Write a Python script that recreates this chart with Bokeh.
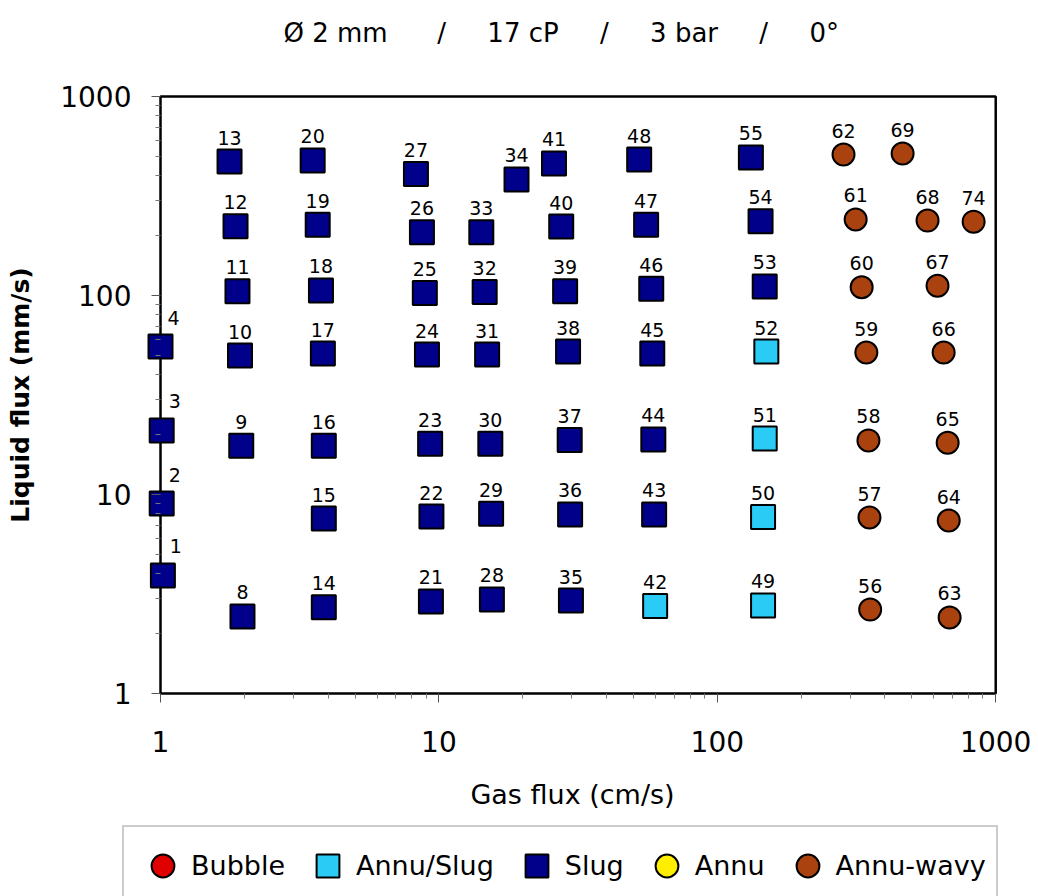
from bokeh.plotting import figure
from bokeh.models import (ColumnDataSource, FixedTicker, NumeralTickFormatter,
                          Legend, LegendItem, Range1d, BoxAnnotation)
from bokeh.layouts import column
from bokeh.core.properties import value
from bokeh.embed import file_html
from bokeh.resources import INLINE

# ---------------- data ----------------
slug_id = [1, 2, 3, 4, 8, 9, 10, 11, 12, 13, 14, 15, 16, 17, 18, 19, 20,
           21, 22, 23, 24, 25, 26, 27, 28, 29, 30, 31, 32, 33, 34,
           35, 36, 37, 38, 39, 40, 41, 43, 44, 45, 46, 47, 48, 53, 54, 55]
slug_gas = [1.02, 1.01, 1.01, 1.0, 1.97, 1.95, 1.93, 1.89, 1.86, 1.77,
            3.86, 3.86, 3.86, 3.83, 3.77, 3.67, 3.52,
            9.36, 9.40, 9.30, 9.06, 8.9, 8.69, 8.27,
            15.5, 15.4, 15.3, 14.9, 14.6, 14.2, 19.0,
            29.8, 29.6, 29.5, 29.1, 28.4, 27.5, 25.9,
            59.3, 58.9, 58.4, 57.9, 55.5, 52.4, 148, 143, 132]
slug_liq = [3.92, 9.0, 21.0, 55.4, 2.44, 17.6, 49.9, 105, 223, 471,
            2.71, 7.57, 17.6, 51.1, 106, 227, 477,
            2.90, 7.75, 18.0, 50.5, 103, 208, 408,
            2.97, 8.0, 18.0, 50.5, 104, 208, 383,
            2.93, 7.94, 18.8, 52.3, 105, 222, 461,
            7.94, 18.9, 51.1, 108, 227, 482, 111, 236, 494]

annuslug_id = [42, 49, 50, 51, 52]
annuslug_gas = [59.8, 146, 146, 148, 150]
annuslug_liq = [2.75, 2.77, 7.7, 19.1, 52.3]

wavy_id = [56, 57, 58, 59, 60, 61, 62, 63, 64, 65, 66, 67, 68, 69, 74]
wavy_gas = [354, 352, 349, 343, 330, 314, 284, 683, 678, 672, 650, 618, 569, 463, 833]
wavy_liq = [2.64, 7.66, 18.7, 51.7, 110, 241, 511, 2.41, 7.40, 18.2, 51.7, 112, 238, 517, 235]

regimes = ["Bubble", "Annu/Slug", "Slug", "Annu", "Annu-wavy"]
colors = {"Bubble": "#E00000", "Annu/Slug": "#2ACBF5", "Slug": "#00008B",
          "Annu": "#FFEE00", "Annu-wavy": "#A9420E"}
markers = {"Bubble": "circle", "Annu/Slug": "square", "Slug": "square",
           "Annu": "circle", "Annu-wavy": "circle"}

x_major = [1, 10, 100, 1000]
y_major = [1, 10, 100, 1000]

title_txt = ("Ø 2 mm" + "\u00a0" * 6 + "/" + "\u00a0" * 5 + "17 cP" + "\u00a0" * 5 +
             "/" + "\u00a0" * 5 + "3 bar" + "\u00a0" * 5 + "/" + "\u00a0" * 5 + "0°")

# ranges padded slightly so markers sitting on the left axis are not clipped
x_lo, x_hi = x_major[0] * 10 ** -0.0503, x_major[-1] * 10 ** 0.01
y_lo, y_hi = y_major[0] * 10 ** -0.01, y_major[-1] * 10 ** 0.01

# ---------------- main figure ----------------
p = figure(width=1038, height=824, x_axis_type="log", y_axis_type="log",
           x_range=Range1d(x_lo, x_hi), y_range=Range1d(y_lo, y_hi),
           output_backend="svg", toolbar_location=None,
           min_border_left=146, min_border_right=40,
           min_border_top=94, min_border_bottom=129)

p.background_fill_color = "white"
p.border_fill_color = "white"
p.xgrid.visible = False
p.ygrid.visible = False
p.outline_line_color = None

p.add_layout(BoxAnnotation(left=x_major[0], right=x_major[-1],
                           bottom=y_major[0], top=y_major[-1],
                           fill_color=None, fill_alpha=0,
                           line_color="black", line_width=2.5, line_alpha=1,
                           level="underlay"))

# second (blank) title line lifts the title towards the top edge
p.title.text = title_txt + "\n\u00a0"
p.title.text_font = "DejaVu Sans"
p.title.text_font_size = "26px"
p.title.text_font_style = "normal"
p.title.text_color = "black"
p.title.text_line_height = 1.5
p.title.align = "left"
p.title.vertical_align = "top"
p.title.offset = 137
p.title.standoff = 0

def minors(majors):
    out = []
    for m in majors[:-1]:
        out += [m * k for k in range(2, 10)]
    return out

p.xaxis.ticker = FixedTicker(ticks=x_major, minor_ticks=minors(x_major))
p.yaxis.ticker = FixedTicker(ticks=y_major, minor_ticks=minors(y_major))
for ax in (p.xaxis[0], p.yaxis[0]):
    ax.formatter = NumeralTickFormatter(format="0")
    ax.axis_line_color = None
    ax.major_tick_line_color = "#555555"
    ax.minor_tick_line_color = "#777777"
    ax.major_tick_line_width = 1
    ax.minor_tick_line_width = 1
    ax.major_label_text_font = "DejaVu Sans"
    ax.major_label_text_font_size = "28px"
    ax.major_label_text_color = "black"
    ax.axis_label_text_color = "black"

# x axis: frame bottom sits 2px under y=1
p.xaxis.major_tick_in = 2
p.xaxis.major_tick_out = 7
p.xaxis.minor_tick_in = 2
p.xaxis.minor_tick_out = 3
p.xaxis.major_label_standoff = 28
# y axis: frame left sits 14px left of x=1, ticks start at x=1
p.yaxis.major_tick_in = 14
p.yaxis.major_tick_out = -5
p.yaxis.minor_tick_in = 14
p.yaxis.minor_tick_out = -9
p.yaxis.major_label_standoff = 20

p.xaxis.axis_label = "Gas flux (cm/s)"
p.xaxis.axis_label_text_font = "DejaVu Sans"
p.xaxis.axis_label_text_font_size = "27px"
p.xaxis.axis_label_text_font_style = "normal"
p.xaxis.axis_label_standoff = 24
p.yaxis.axis_label = "Liquid flux (mm/s)"
p.yaxis.axis_label_text_font = "DejaVu Sans"
p.yaxis.axis_label_text_font_size = "25px"
p.yaxis.axis_label_text_font_style = "bold"
p.yaxis.axis_label_standoff = 22

series = {
    "Slug": (slug_id, slug_gas, slug_liq, 24),
    "Annu/Slug": (annuslug_id, annuslug_gas, annuslug_liq, 24),
    "Annu-wavy": (wavy_id, wavy_gas, wavy_liq, 22),
}

for name, (ids, gx, ly, size) in series.items():
    src = ColumnDataSource(dict(x=gx, y=ly, lab=[str(i) for i in ids],
                                xo=[13 if g < 1.1 else 0 for g in gx],
                                yo=[-29 if g < 1.1 else -24 for g in gx]))
    p.scatter("x", "y", source=src, marker=markers[name], size=size,
              fill_color=colors[name], line_color="black", line_width=2)
    p.text("x", "y", text="lab", source=src, x_offset="xo", y_offset="yo",
           text_align="center", text_baseline="alphabetic",
           text_font=value("DejaVu Sans"), text_font_size=value("19px"),
           text_color="black")

# ---------------- legend strip ----------------
p2 = figure(width=1038, height=72, x_range=Range1d(0, 1), y_range=Range1d(0, 1),
            output_backend="svg", toolbar_location=None,
            x_axis_location=None, y_axis_location=None, min_border=0)
p2.frame_align = False
p2.xgrid.visible = False
p2.ygrid.visible = False
p2.outline_line_color = None
p2.background_fill_color = "white"
p2.border_fill_color = "white"

nan = float("nan")
items = []
for name in regimes:
    # legend-only renderers: a single NaN point, nothing is plotted
    r = p2.scatter(x=[nan], y=[nan], marker=markers[name], size=22,
                   fill_color=colors[name], line_color="black", line_width=2)
    items.append(LegendItem(label=name, renderers=[r]))

legend = Legend(items=items, orientation="horizontal", location=(122, -10),
                glyph_width=57, glyph_height=57, label_standoff=0, spacing=14,
                padding=10, margin=0,
                label_text_font="DejaVu Sans", label_text_font_size="27px",
                label_text_color="black",
                border_line_color="#999999", border_line_width=2,
                background_fill_color="white", background_fill_alpha=1)
p2.add_layout(legend, "center")

layout = column(p, p2, spacing=0)
open("out.html", "w").write(file_html(layout, INLINE))
